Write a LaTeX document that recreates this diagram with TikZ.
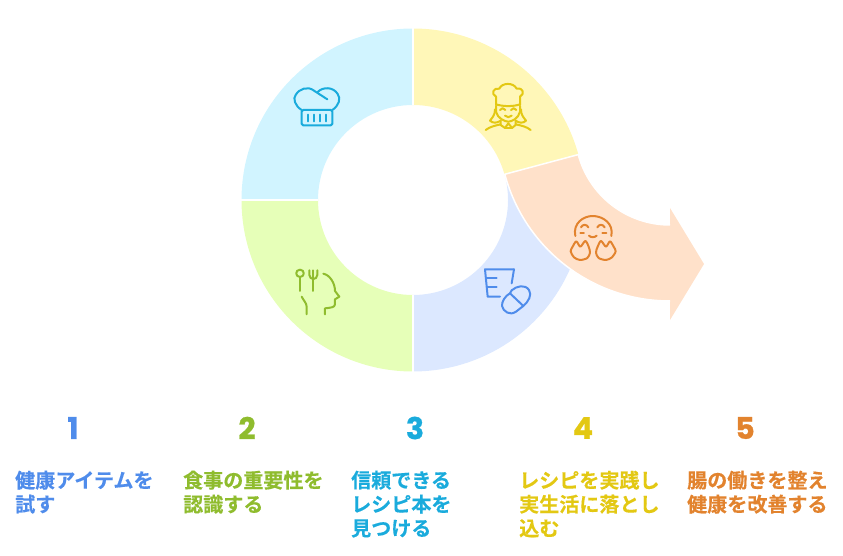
\documentclass[tikz,border=0pt]{standalone}
\usepackage{fontspec}
\setmainfont{Noto Sans CJK JP}
\newfontfamily\jpf{Noto Sans CJK JP Bold}[FakeBold=0.35]
\newfontfamily\numf{Poppins}[BoldFeatures={FakeBold=0.8}]
\definecolor{cblue}{HTML}{4F8CEB}
\definecolor{cgreen}{HTML}{8FBC2E}
\definecolor{ccyan}{HTML}{1AABDC}
\definecolor{cyel}{HTML}{E3C813}
\definecolor{corg}{HTML}{E2832E}
\definecolor{fblue}{HTML}{DCE8FF}
\definecolor{fgreen}{HTML}{E6FFB8}
\definecolor{fcyan}{HTML}{D1F4FF}
\definecolor{fyel}{HTML}{FFF7B8}
\definecolor{forg}{HTML}{FFE1CA}
\tikzset{
  sector/.style={draw=white,line width=1.5pt},
  ico/.style={line width=2pt,line cap=round,line join=round},
  numlabel/.style={inner sep=0pt,anchor=center,font=\numf\bfseries\fontsize{30}{30}\selectfont},
  steplabel/.style={inner sep=0pt,anchor=north west,align=left,font=\jpf\fontsize{20.05}{24}\selectfont},
  zoomA/.style={x=0.3333pt,y=-0.3333pt}
}
\begin{document}
\begin{tikzpicture}[x=1pt,y=1pt]
\useasboundingbox (0,0) rectangle (843,-556);
% sectors
\def\cx{413}\def\cy{-200}\def\Ro{171.5}\def\Ri{95}\def\Rd{76.5}
\fill[fblue] (\cx,\cy) ++(270:\Ro) arc (270:375:\Ro) -- ++(195:\Rd) arc (15:-90:\Ri) -- cycle;
\fill[fgreen] (\cx,\cy) ++(180:\Ro) arc (180:270:\Ro) -- ++(90:\Rd) arc (270:180:\Ri) -- cycle;
\fill[fcyan] (\cx,\cy) ++(90:\Ro) arc (90:180:\Ro) -- ++(0:\Rd) arc (180:90:\Ri) -- cycle;
\fill[fyel] (\cx,\cy) ++(90:\Ro) arc (90:15:\Ro) -- ++(195:\Rd) arc (15:90:\Ri) -- cycle;
\draw[white,line width=1.5pt] (413,-28) -- (413,-105);
\draw[white,line width=1.5pt] (413,-295) -- (413,-372);
\draw[white,line width=1.5pt] (241,-200) -- (318,-200);
% arrow band
\fill[forg] (670,-130) ++(195:171) arc (195:270:171) -- (670,-320) -- (704,-264) -- (670,-208) -- (670,-225) arc (270:195:95) -- cycle;
\draw[sector] (670,-225) arc (270:195:95) -- ++(195:76) arc (195:270:171);
% chef hat (cyan)
\begin{scope}[shift={(240,-20)},zoomA,ico,draw=ccyan]
\draw (185,270) .. controls (165,258) and (158,235) .. (167,225) .. controls (178,205) and (205,198) .. (222,212) -- (262,238);
\draw (277,270) .. controls (296,258) and (304,235) .. (293,222) .. controls (280,200) and (248,200) .. (233,216);
\draw[rounded corners=1.5pt] (185,270) -- (185,316) -- (277,316) -- (277,270) -- cycle;
\draw (204,284) -- (204,304) (222,284) -- (222,304) (240,284) -- (240,304) (258,284) -- (258,304);
\end{scope}
% woman chef (yellow)
\begin{scope}[shift={(470,-70)},zoomA,ico,draw=cyel]
\draw (78,105) -- (78,80) .. controls (62,72) and (70,52) .. (88,56) .. controls (95,38) and (130,36) .. (140,56) .. controls (160,52) and (165,72) .. (150,80) -- (150,105);
\draw (78,103) .. controls (100,110) and (130,110) .. (150,103);
\draw (78,108) -- (78,125) .. controls (82,145) and (105,155) .. (115,155) .. controls (125,155) and (146,145) .. (150,125) -- (150,108);
\draw (75,118) .. controls (76,135) and (65,145) .. (60,152) .. controls (68,160) and (80,160) .. (92,152);
\draw (153,118) .. controls (152,135) and (163,145) .. (168,152) .. controls (160,160) and (148,160) .. (137,152);
\draw (92,152) -- (92,165) -- (105,174) -- (115,160) -- (126,174) -- (137,165) -- (137,152);
\draw (47,180) .. controls (60,170) and (75,167) .. (92,163);
\draw (182,180) .. controls (170,170) and (155,167) .. (137,163);
\draw (105,174) -- (126,174);
\draw (90,120) .. controls (94,113) and (102,113) .. (106,120);
\draw (123,120) .. controls (127,113) and (135,113) .. (139,120);
\draw (105,137) .. controls (110,143) and (120,143) .. (125,137);
\end{scope}
% happy face (orange)
\begin{scope}[shift={(470,-190)},zoomA,ico,draw=corg]
\draw (316,138) .. controls (308,100) and (340,78) .. (368,78) .. controls (398,78) and (432,100) .. (424,138);
\draw (333,112) .. controls (338,102) and (350,102) .. (355,112);
\draw (382,112) .. controls (387,102) and (399,102) .. (404,112);
\draw (331,128) -- (342,128) (397,128) -- (409,128);
\draw (357,137) .. controls (362,143) and (374,143) .. (380,137);
\draw plot[smooth cycle,tension=0.5] coordinates {(330,210) (312,202) (302,184) (308,170) (319,154) (331,170) (346,153) (356,170) (360,188) (352,204)};
\draw plot[smooth cycle,tension=0.5] coordinates {(408,210) (426,202) (437,184) (431,170) (420,154) (408,170) (393,153) (383,170) (378,188) (386,204)};
\end{scope}
% cup and pill (blue)
\begin{scope}[shift={(470,-190)},zoomA,ico,draw=cblue]
\draw (132,238) -- (45,238) -- (53,320) -- (90,320);
\draw (132,238) -- (125,280);
\draw (50,265) -- (80,265) (52,292) -- (80,292);
\draw (120,310) -- (160,348);
\draw (125,301) .. controls (140,288) and (165,282) .. (177,300) .. controls (187,315) and (175,335) .. (160,348) -- (138,365) .. controls (120,378) and (100,365) .. (96,348) .. controls (95,335) and (105,318) .. (120,310) -- cycle;
\end{scope}
% head with cutlery (green)
\begin{scope}[shift={(280,-255)},zoomA,ico,draw=cgreen]
\draw (60,44) .. controls (75,44) and (75,66) .. (60,66) .. controls (45,66) and (45,44) .. (60,44);
\draw (60,66) -- (60,108);
\draw (88,46) -- (88,60) .. controls (88,68) and (95,72) .. (100,72) .. controls (105,72) and (112,68) .. (112,60) -- (112,46);
\draw (100,46) -- (100,108);
\draw (130,56) .. controls (150,60) and (165,85) .. (165,108) -- (178,125) -- (165,133) -- (165,148) .. controls (165,158) and (150,158) .. (135,160) -- (135,178);
\draw (65,125) .. controls (70,135) and (80,145) .. (80,155) -- (80,178);
\end{scope}
% numbers
\node[numlabel,text=cblue] (n1) at (73,-428) {1};
\node[numlabel,text=cgreen] (n2) at (247,-428) {2};
\node[numlabel,text=ccyan] (n3) at (415,-428) {3};
\node[numlabel,text=cyel] (n4) at (583,-428) {4};
\node[numlabel,text=corg] (n5) at (745,-428) {5};
% texts
\node[steplabel,text=cblue] (t1) at (15,-470.5) {健康アイテムを\\試す};
\node[steplabel,text=cgreen] (t2) at (183,-470.5) {食事の重要性を\\認識する};
\node[steplabel,text=ccyan] (t3) at (351,-470.5) {信頼できる\\レシピ本を\\見つける};
\node[steplabel,text=cyel] (t4) at (519,-470.5) {レシピを実践し\\実生活に落とし\\込む};
\node[steplabel,text=corg] (t5) at (687,-470.5) {腸の働きを整え\\健康を改善する};
\end{tikzpicture}
\end{document}
